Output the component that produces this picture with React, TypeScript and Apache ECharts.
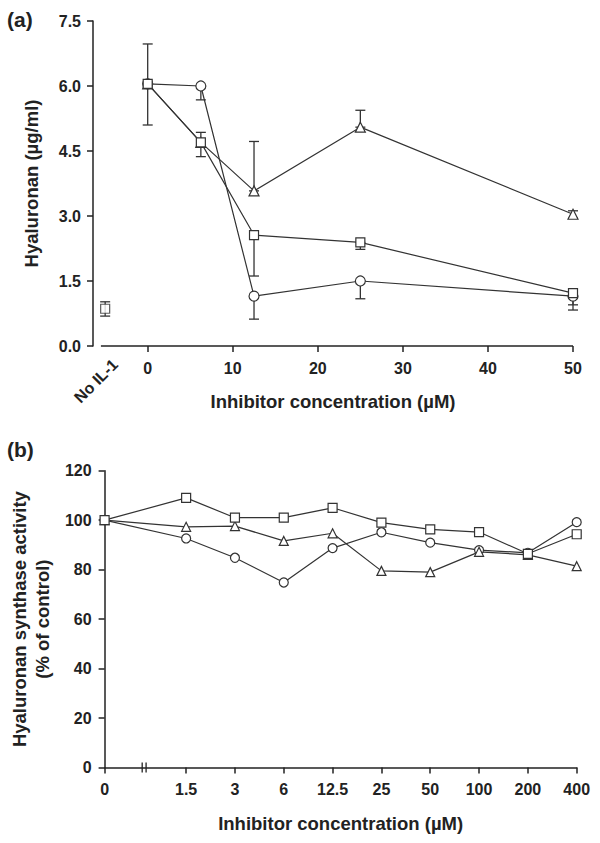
import React, { useEffect, useRef } from "react";
import * as echarts from "echarts";

// ---------- Panel (a) data ----------
const A_X = [0, 6.25, 12.5, 25, 50];
const A_X_TICKS = [0, 10, 20, 30, 40, 50];
const A_CIRCLE = [6.05, 6.0, 1.15, 1.5, 1.15];
const A_SQUARE = [6.05, 4.7, 2.56, 2.39, 1.22];
const A_TRIANGLE = [6.05, 4.7, 3.58, 5.05, 3.04];
// error bars: [x, low, high]
const A_CIRCLE_ERR = [
  [6.25, 5.68, 6.0],
  [12.5, 0.62, 1.15],
  [25, 1.09, 1.5],
  [50, 0.83, 1.15],
];
const A_SQUARE_ERR = [
  [0, 5.1, 6.97],
  [6.25, 4.37, 4.93],
  [12.5, 1.615, 2.56],
  [25, 2.23, 2.39],
  [50, 0.95, 1.22],
];
const A_TRIANGLE_ERR = [
  [12.5, 3.58, 4.72],
  [25, 5.05, 5.44],
  [50, 2.95, 3.12],
];
const A_NO_IL1_X = -5;
const A_NO_IL1 = 0.86;
const A_NO_IL1_ERR = [[A_NO_IL1_X, 0.69, 1.02]];

// ---------- Panel (b) data ----------
const B_LABELS = ["0", "1.5", "3", "6", "12.5", "25", "50", "100", "200", "400"];
const B_SQUARE = [100, 109, 101, 101, 105, 99, 96.3, 95.2, 86.4, 94.3];
const B_TRIANGLE = [100, 97.3, 97.6, 91.6, 94.7, 79.5, 79.0, 87.2, 86.0, 81.4];
const B_CIRCLE = [100, 92.6, 84.8, 74.8, 88.7, 95.1, 90.9, 87.9, 86.8, 99.2];

// layout constants
const BREAK_GAP = 1.67; // distance (in category steps) between "0" and "1.5"
const BREAK_MARKS = [0.77, 0.85];
const bPos = (i: number) => (i === 0 ? 0 : BREAK_GAP + (i - 1));
const B_POSITIONS = B_LABELS.map((_, i) => bPos(i));

const FONT = '"Liberation Sans", Arial, Helvetica, sans-serif';
const INK = "#222";
const LINE = "#333";

const tickLabel = {
  fontFamily: FONT,
  fontWeight: "bold" as const,
  fontSize: 16,
  color: INK,
};
const axisName = {
  fontFamily: FONT,
  fontWeight: "bold" as const,
  fontSize: 18.5,
  color: INK,
};

function errRender(params: any, api: any) {
  const x = api.value(0);
  const lo = api.value(1);
  const hi = api.value(2);
  const pLo = api.coord([x, lo]);
  const pHi = api.coord([x, hi]);
  const w = 5;
  const style = { stroke: LINE, lineWidth: 1.3 };
  return {
    type: "group",
    children: [
      { type: "line", shape: { x1: pLo[0], y1: pLo[1], x2: pHi[0], y2: pHi[1] }, style },
      { type: "line", shape: { x1: pLo[0] - w, y1: pLo[1], x2: pLo[0] + w, y2: pLo[1] }, style },
      { type: "line", shape: { x1: pHi[0] - w, y1: pHi[1], x2: pHi[0] + w, y2: pHi[1] }, style },
    ],
  };
}

function breakRender(params: any, api: any) {
  const p = api.coord([api.value(0), 0]);
  return {
    type: "line",
    shape: { x1: p[0], y1: p[1] - 5, x2: p[0], y2: p[1] + 5 },
    style: { stroke: INK, lineWidth: 1.3 },
  };
}

const markerStyle = { color: "#fff", borderColor: LINE, borderWidth: 1.2 };
const lineStyle = { color: LINE, width: 1.2 };

function lineSeries(name: string, symbol: string, size: number, data: number[][], axisIdx: number) {
  return {
    type: "line",
    name,
    xAxisIndex: axisIdx,
    yAxisIndex: axisIdx,
    data,
    symbol,
    symbolSize: size,
    showAllSymbol: true,
    itemStyle: markerStyle,
    lineStyle,
    z: 3,
    silent: true,
  };
}

function errSeries(data: number[][]) {
  return {
    type: "custom",
    xAxisIndex: 0,
    yAxisIndex: 0,
    renderItem: errRender,
    data,
    encode: { x: 0, y: [1, 2] },
    z: 2,
    silent: true,
  };
}

export default function App() {
  const ref = useRef<HTMLDivElement>(null);
  useEffect(() => {
    if (!ref.current) return;
    const chart = echarts.init(ref.current, null, { renderer: "svg" });
    const option: any = {
      animation: false,
      backgroundColor: "#fff",
      grid: [
        { left: 93, top: 21, width: 480, height: 325 },
        { left: 103.5, top: 470.7, width: 473.2, height: 296.8 },
      ],
      xAxis: [
        {
          gridIndex: 0,
          type: "value",
          min: -6.43,
          max: 50,
          axisLine: { show: false, onZero: false },
          axisTick: {
            show: true,
            length: 6,
            customValues: A_X_TICKS,
            lineStyle: { color: INK, width: 1.5 },
          },
          axisLabel: { ...tickLabel, customValues: A_X_TICKS, margin: 14 },
          splitLine: { show: false },
          name: "Inhibitor concentration (µM)",
          nameLocation: "middle",
          nameGap: 46,
          nameTextStyle: axisName,
        },
        {
          gridIndex: 1,
          type: "value",
          min: 0,
          max: B_POSITIONS[B_POSITIONS.length - 1],
          axisLine: { show: true, onZero: false, lineStyle: { color: INK, width: 1.5 } },
          axisTick: {
            show: true,
            length: 6,
            customValues: B_POSITIONS,
            lineStyle: { color: INK, width: 1.5 },
          },
          axisLabel: {
            ...tickLabel,
            customValues: B_POSITIONS,
            margin: 14,
            formatter: (v: number) => {
              const i = B_POSITIONS.findIndex((p) => Math.abs(p - v) < 1e-6);
              return i >= 0 ? B_LABELS[i] : "";
            },
          },
          splitLine: { show: false },
          name: "Inhibitor concentration (µM)",
          nameLocation: "middle",
          nameGap: 46,
          nameTextStyle: axisName,
        },
      ],
      yAxis: [
        {
          gridIndex: 0,
          type: "value",
          min: 0,
          max: 7.5,
          interval: 1.5,
          axisLine: { show: true, onZero: false, lineStyle: { color: INK, width: 1.5 } },
          axisTick: { show: true, length: 6, lineStyle: { color: INK, width: 1.5 } },
          axisLabel: { ...tickLabel, margin: 12, formatter: (v: number) => v.toFixed(1) },
          splitLine: { show: false },
          name: "Hyaluronan (µg/ml)",
          nameLocation: "middle",
          nameGap: 52,
          nameTextStyle: axisName,
        },
        {
          gridIndex: 1,
          type: "value",
          min: 0,
          max: 120,
          interval: 20,
          axisLine: { show: true, onZero: false, lineStyle: { color: INK, width: 1.5 } },
          axisTick: { show: true, length: 6, lineStyle: { color: INK, width: 1.5 } },
          axisLabel: { ...tickLabel, margin: 13 },
          splitLine: { show: false },
          name: "Hyaluronan synthase activity\n(% of control)",
          nameLocation: "middle",
          nameGap: 47,
          nameTextStyle: { ...axisName, lineHeight: 23 },
        },
      ],
      graphic: [
        {
          type: "text",
          left: 7,
          top: 9,
          style: { text: "(a)", font: `bold 21px ${FONT}`, fill: INK },
        },
        {
          type: "text",
          left: 7,
          top: 439,
          style: { text: "(b)", font: `bold 21px ${FONT}`, fill: INK },
        },
        {
          type: "text",
          x: 96,
          y: 381,
          rotation: Math.PI / 4,
          style: {
            text: "No IL-1",
            font: `bold 16px ${FONT}`,
            fill: INK,
            align: "center",
            verticalAlign: "middle",
          },
        },
      ],
      series: [
        errSeries(A_SQUARE_ERR),
        errSeries(A_CIRCLE_ERR),
        errSeries(A_TRIANGLE_ERR),
        errSeries(A_NO_IL1_ERR),
        lineSeries("circle", "circle", 10, A_X.map((x, i) => [x, A_CIRCLE[i]]), 0),
        lineSeries("triangle", "triangle", 10, A_X.map((x, i) => [x, A_TRIANGLE[i]]), 0),
        lineSeries("square", "rect", 9, A_X.map((x, i) => [x, A_SQUARE[i]]), 0),
        {
          type: "scatter",
          xAxisIndex: 0,
          yAxisIndex: 0,
          data: [[A_NO_IL1_X, A_NO_IL1]],
          symbol: "rect",
          symbolSize: 9,
          itemStyle: markerStyle,
          z: 3,
          silent: true,
          markLine: {
            silent: true,
            symbol: ["none", "none"],
            label: { show: false },
            lineStyle: { color: INK, width: 1.5, type: "solid" },
            data: [[{ coord: [-5.5, 0] }, { coord: [50, 0] }]],
          },
        },
        lineSeries("circle b", "circle", 9, B_CIRCLE.map((v, i) => [B_POSITIONS[i], v]), 1),
        lineSeries("triangle b", "triangle", 9, B_TRIANGLE.map((v, i) => [B_POSITIONS[i], v]), 1),
        lineSeries("square b", "rect", 9, B_SQUARE.map((v, i) => [B_POSITIONS[i], v]), 1),
        {
          type: "custom",
          xAxisIndex: 1,
          yAxisIndex: 1,
          renderItem: breakRender,
          data: BREAK_MARKS.map((m) => [m]),
          encode: { x: 0 },
          z: 4,
          silent: true,
        },
      ],
    };
    chart.setOption(option);
    return () => chart.dispose();
  }, []);
  return (
    <div
      ref={ref}
      style={{ position: "fixed", left: 0, top: 0, width: 600, height: 843, background: "#fff" }}
    />
  );
}
